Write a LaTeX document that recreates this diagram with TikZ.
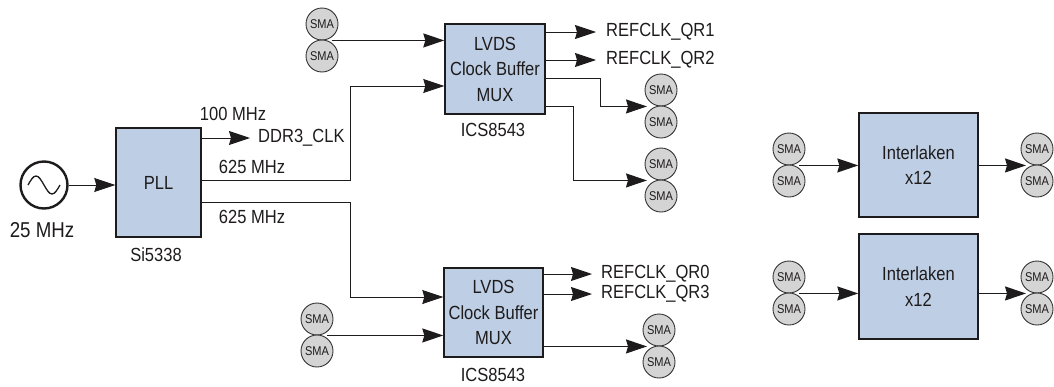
\documentclass[tikz,border=0pt]{standalone}
\usepackage{fontspec}
\setmainfont{Liberation Sans}[FakeStretch=0.87]
\usetikzlibrary{arrows.meta,calc}
\definecolor{boxblue}{RGB}{190,207,229}
\definecolor{smagray}{RGB}{212,212,212}
\definecolor{ink}{RGB}{30,27,28}
\newcommand\myfs[2]{\fontsize{#1}{#2}\selectfont}
\begin{document}
\begin{tikzpicture}[x=1pt,y=-1pt,
  blk/.style={draw=ink, line width=1.4pt, fill=boxblue, inner sep=0pt, align=center, text=ink, font=\myfs{19}{25.5}},
  sma/.style={circle, draw=ink!90, line width=0.9pt, fill=smagray, minimum size=32pt, inner sep=0pt, text=ink, font=\myfs{12.7}{13}},
  lbl/.style={inner sep=0pt, text=ink, font=\myfs{19}{23}},
  conn/.style={draw=ink, line width=1pt},
  arr/.style={conn, -{Stealth[length=21pt,width=14pt,inset=2pt]}}]
\useasboundingbox (0,0) rectangle (1054,386);

% oscillator
\node[circle, draw=ink, line width=2.4pt, minimum size=47pt, inner sep=0pt] (osc) at (44,185) {};
\draw[ink, line width=1.3pt] ($(osc)+(-16,0)$) sin ++(8,-9) cos ++(8,9) sin ++(8,9) cos ++(8,-9);
\node[lbl, font=\myfs{21.5}{24}] (f25) at (42,230) {25 MHz};

% PLL
\node[blk, minimum width=85pt, minimum height=109pt] (pll) at (158.5,182.5) {\raisebox{-5pt}{PLL}};
\node[lbl] (si) at (156,255) {Si5338};
\draw[arr] (osc.east) -- (osc.east -| pll.west);

\node[lbl] (f100) at (233,114) {100 MHz};
\node[lbl, anchor=west] (ddr) at (258,138) {DDR3\_CLK};
\draw[arr] ([yshift=44.5pt]pll.east) -- ([xshift=-8pt]ddr.west);
\node[lbl] (f625a) at (252,167) {625 MHz};
\node[lbl] (f625b) at (252,217) {625 MHz};

% top LVDS
\node[blk, minimum width=100pt, minimum height=90pt] (lv1) at (495,69) {LVDS\\Clock Buffer\\MUX};
\node[lbl] (ics1) at (493,130) {ICS8543};
\node[sma] (s1a) at (322,24) {SMA};
\node[sma] (s1b) at (322,56) {SMA};
\draw[arr] ([xshift=10pt]s1a.south) -- (s1a.south -| lv1.west);
\draw[arr] ([yshift=2.5pt]pll.east) -- ++(149,0) |- ([yshift=-17pt]lv1.west);

\node[lbl, anchor=west] (qr1) at (606,32) {REFCLK\_QR1};
\node[lbl, anchor=west] (qr2) at (606,60) {REFCLK\_QR2};
\draw[arr] (lv1.east |- qr1.west) -- ([xshift=-10pt]qr1.west);
\draw[arr] (lv1.east |- qr2.west) -- ([xshift=-10pt]qr2.west);

\node[sma] (s2a) at (661,90) {SMA};
\node[sma] (s2b) at (661,122) {SMA};
\node[sma] (s3a) at (661,164) {SMA};
\node[sma] (s3b) at (661,196) {SMA};
\draw[arr] ([yshift=-9pt]lv1.east) -- ++(55,0) |- ([xshift=-14pt]s2a.south);
\draw[arr] ([yshift=-37pt]lv1.east) -- ++(28,0) |- ([xshift=-14pt]s3a.south);

% bottom LVDS
\node[blk, minimum width=99pt, minimum height=89pt] (lv2) at (493.5,312.5) {LVDS\\Clock Buffer\\MUX};
\node[lbl] (ics2) at (493,375) {ICS8543};
\node[sma] (s4a) at (317,319) {SMA};
\node[sma] (s4b) at (317,351) {SMA};
\draw[arr] ([yshift=-19.5pt]pll.east) -- ++(149,0) |- ([yshift=15.5pt]lv2.west);
\draw[arr] ([xshift=10pt]s4a.south) -- (s4a.south -| lv2.west);

\node[lbl, anchor=west] (qr0) at (601,274) {REFCLK\_QR0};
\node[lbl, anchor=west] (qr3) at (601,294) {REFCLK\_QR3};
\draw[arr] (lv2.east |- qr0.west) -- ([xshift=-9pt]qr0.west);
\draw[arr] (lv2.east |- qr3.west) -- ([xshift=-9pt]qr3.west);

\node[sma] (s5a) at (659,330) {SMA};
\node[sma] (s5b) at (659,362) {SMA};
\draw[arr] (lv2.east |- s5a.south) -- ([xshift=-12pt]s5a.south);

% Interlaken
\node[blk, minimum width=119pt, minimum height=104pt] (il1) at (918.5,165) {Interlaken\\x12};
\node[blk, minimum width=119pt, minimum height=105pt] (il2) at (918.5,286.5) {Interlaken\\x12};
\node[sma] (s6a) at (789,149) {SMA};
\node[sma] (s6b) at (789,181) {SMA};
\node[sma] (s7a) at (1037,149) {SMA};
\node[sma] (s7b) at (1037,181) {SMA};
\node[sma] (s8a) at (789,277) {SMA};
\node[sma] (s8b) at (789,309) {SMA};
\node[sma] (s9a) at (1037,277) {SMA};
\node[sma] (s9b) at (1037,309) {SMA};
\draw[arr] ([xshift=10pt]s6a.south) -- (s6a.south -| il1.west);
\draw[arr] ([xshift=10pt]s8a.south) -- (s8a.south -| il2.west);
\draw[arr] (il1.east |- s7a.south) -- ([xshift=-11pt]s7a.south);
\draw[arr] (il2.east |- s9a.south) -- ([xshift=-11pt]s9a.south);
\end{tikzpicture}
\end{document}
